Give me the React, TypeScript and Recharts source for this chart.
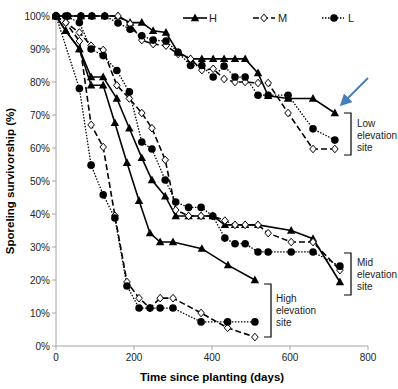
import { LineChart, Line, XAxis, YAxis, Label } from 'recharts';

// sampling days per site and survivorship (%) per series
const lowDays = [0, 30, 64, 92, 125, 159, 190, 220, 249, 282, 313, 345, 374, 403, 431, 459, 485, 518, 544, 595, 659, 715];
const lowH = [100, 100, 100, 100, 100, 100, 98, 98, 95.5, 95, 89, 87, 87, 87, 87, 87, 87, 82.7, 75.8, 75, 75, 70.6];
const lowM = [100, 100, 100, 100, 100, 100, 97.6, 92.7, 91.5, 91, 88.5, 87, 83.6, 84, 80.9, 80, 80, 79.7, 79.7, 70.6, 59.7, 59.7];
const lowL = [100, 100, 100, 100, 100, 97.9, 96, 94, 92.7, 92.4, 89, 85, 85, 81.5, 84.8, 81.5, 81.5, 76, 76, 76, 65.8, 62.4];

const midDays = [0, 25, 60, 90, 121, 156, 188, 220, 246, 280, 307, 340, 372, 402, 433, 459, 485, 518, 544, 603, 659, 728];
const midHDays = [0, 25, 60, 90, 121, 156, 188, 220, 246, 280, 307, 340, 372, 402, 433, 459, 485, 518, 603, 659, 728];
const midH = [100, 95.5, 90, 81.5, 81.5, 75, 66, 57, 50.3, 45.4, 39.4, 39.4, 39.4, 39.4, 36.7, 36.7, 36.7, 36.7, 35, 32.5, 19.4];
const midM = [100, 98, 95, 91, 89.7, 79, 75, 70.6, 66, 56.4, 41.2, 39.4, 39.4, 39.4, 38, 36.7, 36.7, 36.7, 34.2, 31.5, 31.5, 23];
const midL = [100, 100, 98, 90, 88, 83.5, 77, 61.8, 59.7, 50.3, 43.6, 42, 42, 39.4, 32.7, 31, 31, 28.5, 28.5, 28.5, 28.5, 24.2];

const highHDays = [0, 25, 60, 90, 121, 151, 182, 213, 241, 267, 300, 374, 441, 510];
const highH = [100, 95.5, 90, 79, 79, 67.6, 55.5, 44, 34.2, 31.5, 31.5, 29.5, 24.5, 20];
const highMDays = [0, 25, 60, 90, 121, 151, 182, 213, 241, 267, 300, 372, 440, 510];
const highM = [100, 98, 92.4, 67, 60.3, 39.5, 19.4, 14.5, 11.5, 14.5, 14.5, 10, 5.5, 2.7];
const highLDays = [0, 60, 90, 121, 151, 182, 213, 241, 267, 300, 372, 440, 510];
const highL = [100, 78, 54.8, 45.8, 38.8, 18.2, 11.5, 11.5, 11.5, 11.5, 7.3, 7.3, 7.3];

const xTicks = [0, 200, 400, 600, 800];
const yTicks = [0, 10, 20, 30, 40, 50, 60, 70, 80, 90, 100];

const pts = (days: number[], vals: number[]) => days.map((d, i) => ({ day: d, v: vals[i] }));

const tri = (cx: number, cy: number) => `M${cx},${cy - 4.5}L${cx + 4.2},${cy + 3.2}L${cx - 4.2},${cy + 3.2}Z`;
const dia = (cx: number, cy: number) => `M${cx},${cy - 3.8}L${cx + 3.3},${cy}L${cx},${cy + 3.8}L${cx - 3.3},${cy}Z`;

const triDot = (name: string) => (p: any) =>
  p.cx == null || p.cy == null ? null : <path key={`${name}-${p.index}`} d={tri(p.cx, p.cy)} fill="#000" />;
const diaDot = (name: string) => (p: any) =>
  p.cx == null || p.cy == null ? null : (
    <path key={`${name}-${p.index}`} d={dia(p.cx, p.cy)} fill="#fff" stroke="#000" strokeWidth={1} />
  );
const cirDot = (name: string) => (p: any) =>
  p.cx == null || p.cy == null ? null : <circle key={`${name}-${p.index}`} cx={p.cx} cy={p.cy} r={3.8} fill="#000" />;

const font = 'Liberation Sans, Arial, sans-serif';

const series = [
  { name: 'lowH', data: pts(lowDays, lowH), kind: 'H' },
  { name: 'lowM', data: pts(lowDays, lowM), kind: 'M' },
  { name: 'lowL', data: pts(lowDays, lowL), kind: 'L' },
  { name: 'midH', data: pts(midHDays, midH), kind: 'H' },
  { name: 'midM', data: pts(midDays, midM), kind: 'M' },
  { name: 'midL', data: pts(midDays, midL), kind: 'L' },
  { name: 'highH', data: pts(highHDays, highH), kind: 'H' },
  { name: 'highM', data: pts(highMDays, highM), kind: 'M' },
  { name: 'highL', data: pts(highLDays, highL), kind: 'L' },
];

const styleFor = (kind: string, name: string) => {
  if (kind === 'H') return { strokeDasharray: undefined, strokeWidth: 1.6, dot: triDot(name) };
  if (kind === 'M') return { strokeDasharray: '6 3', strokeWidth: 1.6, dot: diaDot(name) };
  return { strokeDasharray: '1.5 1.5', strokeWidth: 1.3, dot: cirDot(name) };
};

const Bracket = ({ x, y1, y2 }: { x: number; y1: number; y2: number }) => (
  <path d={`M${x - 7},${y1}H${x}V${y2}H${x - 7}`} fill="none" stroke="#000" strokeWidth={1.2} />
);

const SiteText = ({ x, y, first }: { x: number; y: number; first: string }) => (
  <text x={x} y={y} fontSize={10} fontFamily={font} fill="#222">
    <tspan x={x} dy={0}>{first}</tspan>
    <tspan x={x} dy={12}>elevation</tspan>
    <tspan x={x} dy={12}>site</tspan>
  </text>
);

export default function App() {
  return (
    <div style={{ position: 'absolute', left: 0, top: 0, width: 398, height: 389, background: '#fff' }}>
      <LineChart width={398} height={389} margin={{ top: 16, right: 30, bottom: 0, left: 0 }}>
        <XAxis
          dataKey="day"
          type="number"
          domain={[0, 800]}
          ticks={xTicks}
          height={43}
          tick={{ fontSize: 10, fill: '#222', fontFamily: font }}
          tickSize={4}
          tickMargin={4}
          axisLine={{ stroke: '#a6a6a6' }}
          tickLine={{ stroke: '#a6a6a6' }}
          allowDuplicatedCategory={false}
        >
          <Label
            value="Time since planting (days)"
            position="insideBottom"
            offset={8}
            style={{ fontSize: 11.5, fontWeight: 'bold', fill: '#000', fontFamily: font }}
          />
        </XAxis>
        <YAxis
          type="number"
          domain={[0, 100]}
          ticks={yTicks}
          width={56}
          tickFormatter={(v: number) => `${v}%`}
          tick={{ fontSize: 10, fill: '#222', fontFamily: font }}
          tickSize={4}
          axisLine={{ stroke: '#a6a6a6' }}
          tickLine={{ stroke: '#a6a6a6' }}
        >
          <Label
            value="Sporeling survivorship (%)"
            angle={-90}
            position="insideLeft"
            offset={10}
            style={{ fontSize: 11.5, fontWeight: 'bold', fill: '#000', fontFamily: font, textAnchor: 'middle' }}
          />
        </YAxis>
        {series.map((s) => {
          const st = styleFor(s.kind, s.name);
          return (
            <Line
              key={s.name}
              data={s.data}
              dataKey="v"
              type="linear"
              stroke="#000"
              strokeWidth={st.strokeWidth}
              strokeDasharray={st.strokeDasharray}
              dot={st.dot}
              activeDot={false}
              isAnimationActive={false}
            />
          );
        })}
      </LineChart>
      <svg width={398} height={389} style={{ position: 'absolute', left: 0, top: 0, pointerEvents: 'none' }}>
        {/* legend */}
        <line x1={183} y1={18} x2={207} y2={18} stroke="#000" strokeWidth={1.6} />
        <path d={tri(195, 18)} fill="#000" />
        <text x={209} y={22} fontSize={11} fontFamily={font} fill="#222">H</text>
        <line x1={253} y1={18} x2={275} y2={18} stroke="#000" strokeWidth={1.6} strokeDasharray="6 3" />
        <path d={dia(264, 18)} fill="#fff" stroke="#000" />
        <text x={278} y={22} fontSize={11} fontFamily={font} fill="#222">M</text>
        <line x1={322} y1={18} x2={344} y2={18} stroke="#000" strokeWidth={1.3} strokeDasharray="1.5 1.5" />
        <circle cx={334} cy={18} r={3.8} fill="#000" />
        <text x={348} y={22} fontSize={11} fontFamily={font} fill="#222">L</text>
        {/* site annotations */}
        <Bracket x={351} y1={113} y2={155} />
        <SiteText x={357} y={127} first="Low" />
        <Bracket x={351} y1={253} y2={295} />
        <SiteText x={357} y={266} first="Mid" />
        <Bracket x={271} y1={284} y2={337} />
        <SiteText x={276} y={302} first="High" />
        {/* arrow */}
        <defs>
          <marker id="ah" markerWidth="6" markerHeight="6" refX="3" refY="3" orient="auto" markerUnits="strokeWidth">
            <path d="M0,0 L6,3 L0,6 Z" fill="#4a7ebb" />
          </marker>
        </defs>
        <line x1={368} y1={78} x2={344} y2={102} stroke="#4a7ebb" strokeWidth={2} markerEnd="url(#ah)" />
      </svg>
    </div>
  );
}
